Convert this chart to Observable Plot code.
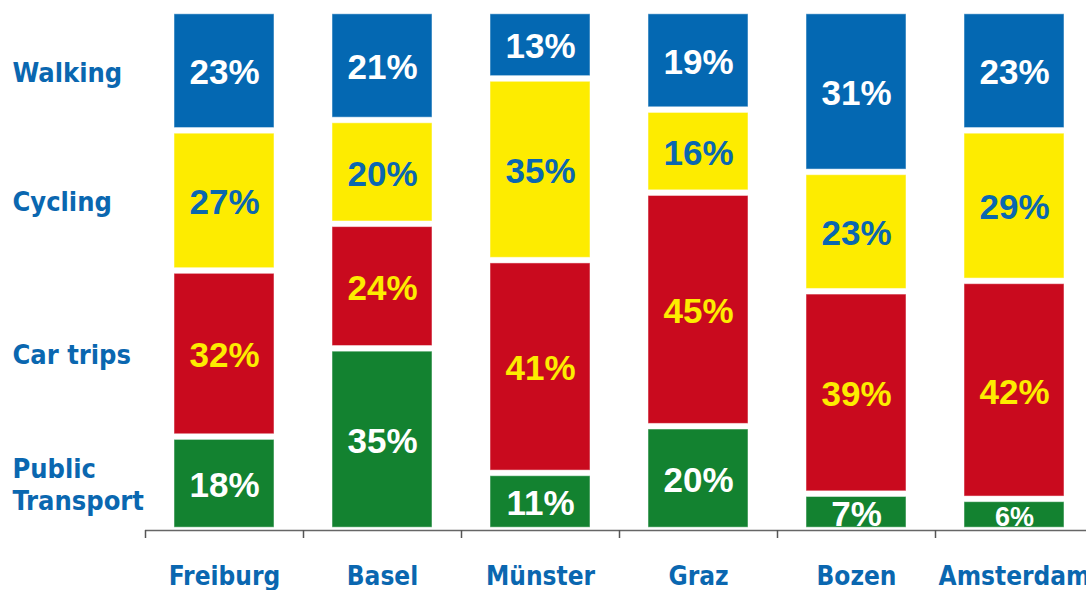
<!DOCTYPE html>
<html>
<head>
<meta charset="utf-8">
<script src="https://cdn.jsdelivr.net/npm/d3@7"></script>
<script src="https://cdn.jsdelivr.net/npm/@observablehq/plot@0.6"></script>
<style>
  html, body { margin: 0; padding: 0; background: #fff; }
  #chart { width: 1086px; height: 590px; overflow: hidden; }
</style>
</head>
<body>
<div id="chart"></div>
<script>
const cities = ["Freiburg", "Basel", "Münster", "Graz", "Bozen", "Amsterdam"];
const modes = ["Public Transport", "Car trips", "Cycling", "Walking"];
const publicTransport = [18, 35, 11, 20, 7, 6];
const carTrips = [32, 24, 41, 45, 39, 42];
const cycling = [27, 20, 35, 16, 23, 29];
const walking = [23, 21, 13, 19, 31, 23];
const modeLabels = ["Public\nTransport", "Car trips", "Cycling", "Walking"];

const barColors = ["#138230", "#c90a1e", "#fdec00", "#0468b2"];
const textColors = ["#ffffff", "#fdec00", "#0a67b0", "#ffffff"];
const blue = "#0a67b0";

const series = [publicTransport, carTrips, cycling, walking];
const data = [];
cities.forEach((c, i) => {
  modes.forEach((m, j) => {
    data.push({city: c, mode: m, value: series[j][i], label: series[j][i] + "%", tcolor: textColors[j]});
  });
});

const labelFont = "'DejaVu Sans Condensed', 'DejaVu Sans', sans-serif";
const pctFont = "'Liberation Sans', Arial, sans-serif";

const textMarks = textColors.filter((c, i, a) => a.indexOf(c) === i).map(col =>
  Plot.text(data, Plot.stackY({
    x: "city", y: "value", z: "mode", order: modes,
    text: d => d.tcolor === col ? d.label : "",
    fill: col,
    dy: 2,
    fontFamily: pctFont,
    fontWeight: "bold",
    fontSize: d => d.value < 7 ? 27 : 35
  }))
);

const plot = Plot.plot({
  width: 1086,
  height: 590,
  marginLeft: 145,
  marginRight: 0,
  marginTop: 11,
  marginBottom: 60,
  style: {fontFamily: labelFont, background: "#fff", overflow: "visible"},
  x: {domain: cities, range: [145, 1093], paddingInner: 0.367, paddingOuter: 0.1835, axis: null, label: null},
  y: {domain: [0, 100], axis: null},
  color: {domain: modes, range: barColors},
  marks: [
    Plot.barY(data, {
      x: "city", y: "value", z: "mode", order: modes,
      fill: "mode",
      insetTop: 2.8, insetBottom: 2.8,
      stroke: "#ffffff", strokeOpacity: 0.5, strokeWidth: 1
    }),
    ...textMarks,
    Plot.ruleY([0], {stroke: "#666", strokeWidth: 1.5}),
    Plot.axisX({tickSize: 8, tickFormat: () => "", label: null, dx: -79, stroke: "#555", strokeWidth: 1.5}),
    Plot.text(cities, {
      x: d => d,
      frameAnchor: "bottom",
      dy: 54,
      text: d => d,
      fill: blue,
      fontFamily: labelFont,
      fontWeight: "bold",
      fontSize: 26
    }),
    Plot.text(data.filter(d => d.city === "Freiburg"), Plot.stackY({
      y: "value", z: "mode", order: modes,
      text: d => modeLabels[modes.indexOf(d.mode)],
      frameAnchor: "left",
      dx: -133,
      textAnchor: "start",
      lineHeight: 1.2,
      fill: blue,
      fontFamily: labelFont,
      fontWeight: "bold",
      fontSize: 27
    }))
  ]
});
document.getElementById("chart").appendChild(plot);
</script>
</body>
</html>
